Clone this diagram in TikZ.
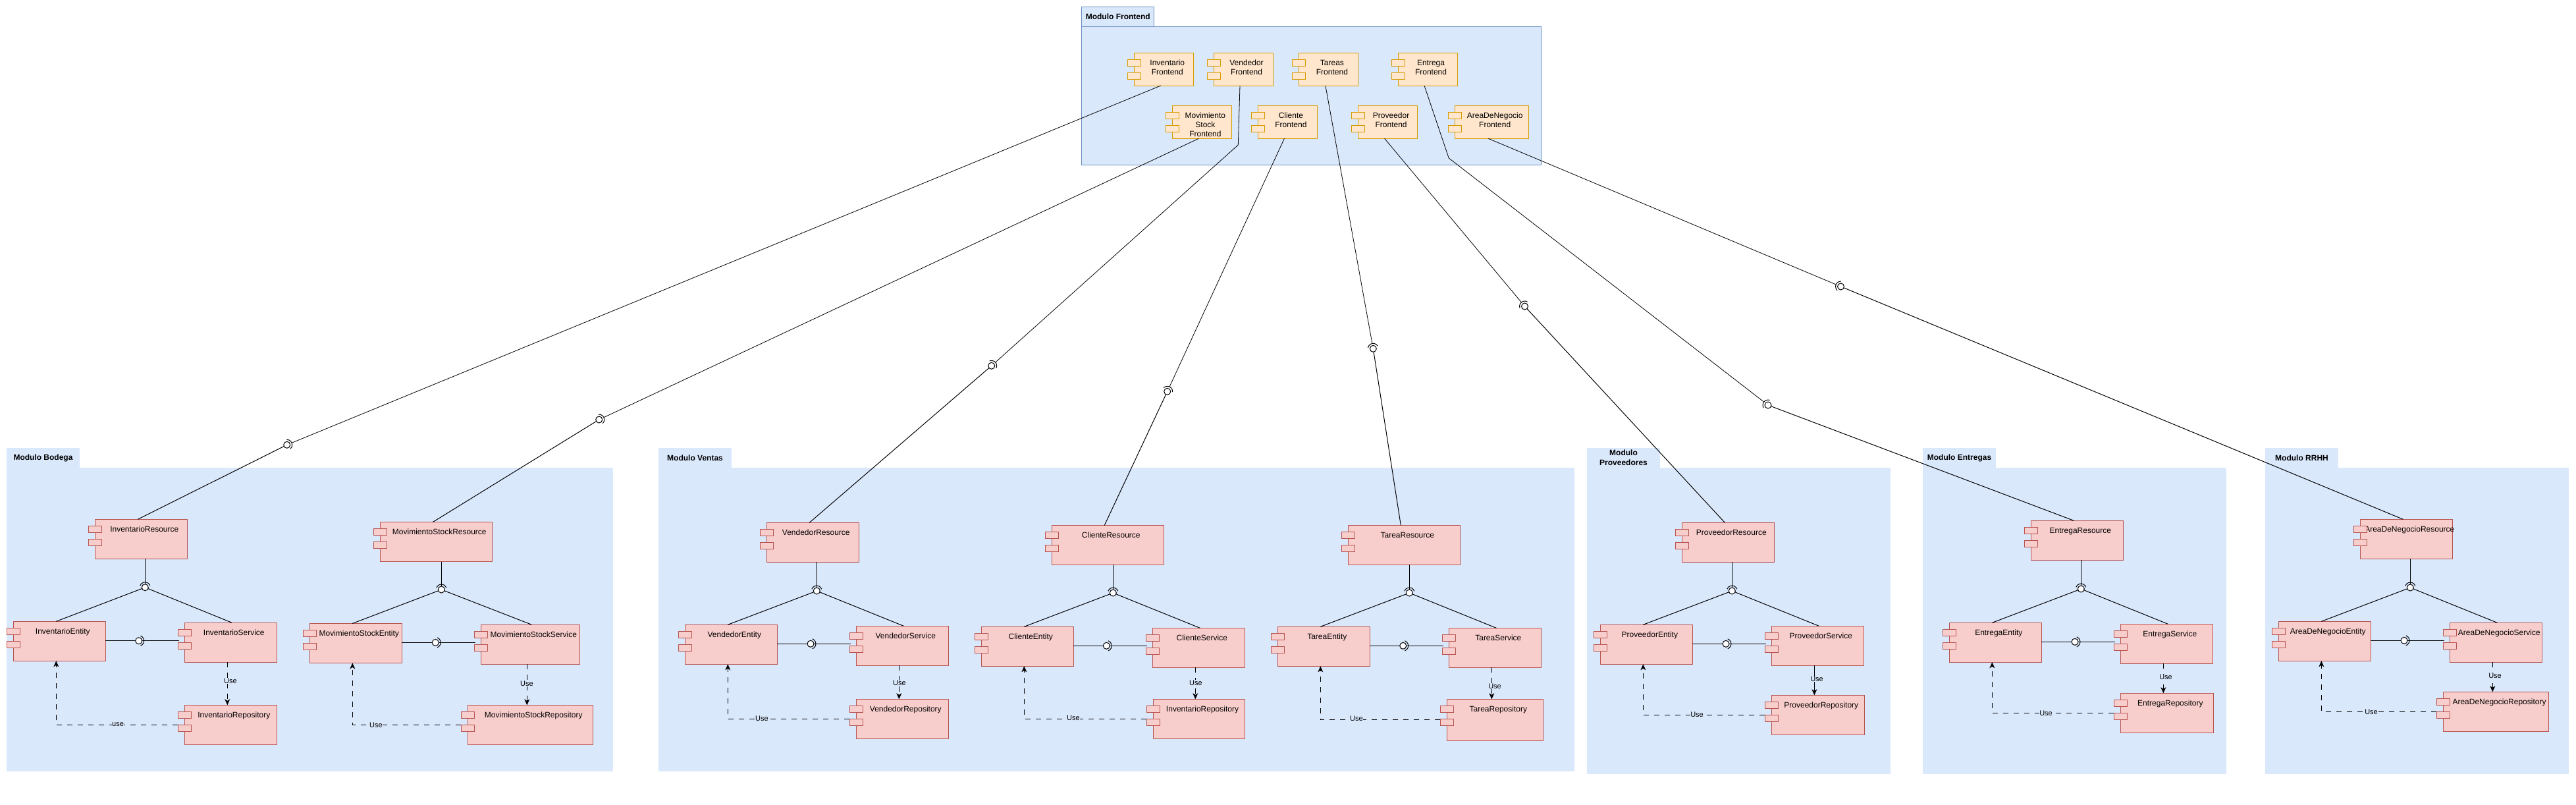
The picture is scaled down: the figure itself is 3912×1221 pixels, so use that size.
\documentclass[tikz,border=0pt]{standalone}
\usepackage{fontspec}
\setmainfont{Liberation Sans}
\usepackage{tikz}
\usetikzlibrary{arrows.meta}

\definecolor{modfill}{HTML}{DAE8FC}
\definecolor{modline}{HTML}{6C8EBF}
\definecolor{redfill}{HTML}{F8CECC}
\definecolor{redline}{HTML}{B85450}
\definecolor{orangefill}{HTML}{FFE6CC}
\definecolor{orangeline}{HTML}{D79B00}

\newcommand{\compstack}[1]{\begin{tabular}[t]{@{}c@{}}#1\end{tabular}}

\tikzset{
    modbody/.style={rectangle, anchor=north west, fill=modfill, inner sep=0pt, outer sep=0pt},
    modtab/.style={modbody, minimum width=111pt, minimum height=30pt, align=center, font=\bfseries\fontsize{12}{15}\selectfont},
    port/.style 2 args={rectangle, anchor=north west, draw=#1, fill=#2, line width=1pt, inner sep=0pt, outer sep=0pt, minimum width=20pt, minimum height=10pt, xshift=-10pt},
    comp/.style 2 args={rectangle, anchor=north west, draw=#1, fill=#2, inner sep=0pt, outer sep=0pt, line width=1pt, text height=19.3pt,
        execute at begin node={\hspace*{10pt}\hbox to 0pt\bgroup\hss},
        execute at end node={\hss\egroup},
        label={[port={#1}{#2}, yshift=-10pt]north west:{}},
        label={[port={#1}{#2}, yshift=-30pt]north west:{}}},
    redcomp/.style={comp={redline}{redfill}, minimum width=#1, text depth=40.7pt},
    redcomp/.default=140pt,
    orangecomp/.style={comp={orangeline}{orangefill}, minimum width=#1, text depth=30.7pt},
    orangecomp/.default=90pt,
    lolly/.style={circle, draw, fill=white, line width=1pt, minimum size=10pt, inner sep=0pt, outer sep=0pt,
        append after command={\pgfextra{
            \draw[line width=1pt] (\tikzlastnode.center) ++(#1-70:8pt) arc[start angle=#1-70, end angle=#1+70, radius=8pt];
        }}},
    wire/.style={line width=1pt},
    longwire/.style={line width=0.8pt, shorten >=3pt},
    dep/.style={line width=1pt, dashed, dash pattern=on 8pt off 8pt, -{Stealth[length=9pt, width=8pt, inset=2.5pt]}},
    uselabel/.style={fill=modfill, inner xsep=0.5pt, inner ysep=0.5pt, font=\fontsize{11}{13}\selectfont}
}

\begin{document}
\begin{tikzpicture}[x=1pt, y=-1pt, font=\fontsize{12}{14}\selectfont]
    \useasboundingbox (0,0) rectangle (3912,1221);

    % modules
    \node[modbody, minimum width=921pt, minimum height=460.7pt] (bodega) at (10,710) {};
    \node[modtab] (bodegatab) at (10,680) {Modulo Bodega};
    \node[modbody, minimum width=1391pt, minimum height=461pt] (ventas) at (1000,710) {};
    \node[modtab] (ventastab) at (1000,680) {Modulo Ventas};
    \node[modbody, minimum width=461pt, minimum height=465pt] (proveedores) at (2410,710) {};
    \node[modtab] (proveedorestab) at (2410,680) {Modulo\\Proveedores};
    \node[modbody, minimum width=461pt, minimum height=465pt] (entregas) at (2920,710) {};
    \node[modtab] (entregastab) at (2920,680) {Modulo Entregas};
    \node[modbody, minimum width=461pt, minimum height=465pt] (rrhh) at (3440,710) {};
    \node[modtab] (rrhhtab) at (3440,680) {Modulo RRHH};
    \node[modbody, draw=modline, line width=1pt, minimum width=697.5pt, minimum height=210pt] (frontend) at (1642.8,40) {};
    \node[modtab, draw=modline, line width=1pt, minimum width=110pt] (frontendtab) at (1642.8,10) {Modulo Frontend};

    % frontend
    \node[orangecomp] (fInv) at (1722.8,80) {\compstack{Inventario\\Frontend}};
    \node[orangecomp] (fVen) at (1843,80) {\compstack{Vendedor\\Frontend}};
    \node[orangecomp] (fTar) at (1972.9,80) {\compstack{Tareas\\Frontend}};
    \node[orangecomp] (fEnt) at (2123,80) {\compstack{Entrega\\Frontend}};
    \node[orangecomp] (fMov) at (1780.4,160.3) {\compstack{Movimiento\\Stock\\Frontend}};
    \node[orangecomp] (fCli) at (1910.4,160.3) {\compstack{Cliente\\Frontend}};
    \node[orangecomp] (fPro) at (2062.6,160.3) {\compstack{Proveedor\\Frontend}};
    \node[orangecomp=112.4pt] (fAre) at (2209,160.3) {\compstack{AreaDeNegocio\\Frontend}};

    % bodega
    \node[redcomp] (invRes) at (144.3,788.3) {InventarioResource};
    \node[redcomp] (invEnt) at (20.3,943.3) {InventarioEntity};
    \node[redcomp] (invSer) at (280.3,945.3) {InventarioService};
    \node[redcomp] (invRep) at (280.3,1070.3) {InventarioRepository};
    \node[redcomp=170pt] (movRes) at (577.3,792.5) {MovimientoStockResource};
    \node[redcomp] (movEnt) at (470.3,946.4) {MovimientoStockEntity};
    \node[redcomp=150pt] (movSer) at (730.3,948.2) {MovimientoStockService};
    \node[redcomp=190pt] (movRep) at (710.3,1070.4) {MovimientoStockRepository};

    % ventas
    \node[redcomp] (venRes) at (1164.3,793.3) {VendedorResource};
    \node[redcomp] (venEnt) at (1040.3,948.3) {VendedorEntity};
    \node[redcomp] (venSer) at (1300.3,950.3) {VendedorService};
    \node[redcomp] (venRep) at (1300.3,1061.3) {VendedorRepository};
    \node[redcomp=170pt] (cliRes) at (1597.3,797.3) {ClienteResource};
    \node[redcomp] (cliEnt) at (1490.3,951.3) {ClienteEntity};
    \node[redcomp] (cliSer) at (1750.3,953.3) {ClienteService};
    \node[redcomp=139.4pt] (cliRep) at (1751.3,1061.3) {InventarioRepository};
    \node[redcomp=170pt] (tarRes) at (2047.3,797.3) {TareaResource};
    \node[redcomp] (tarEnt) at (1940.3,951.3) {TareaEntity};
    \node[redcomp] (tarSer) at (2200.3,953.3) {TareaService};
    \node[redcomp=146pt, text depth=43.7pt] (tarRep) at (2197.3,1061.3) {TareaRepository};

    % proveedores, entregas, rrhh
    \node[redcomp] (proRes) at (2554.3,793.3) {ProveedorResource};
    \node[redcomp] (proEnt) at (2430.3,948.3) {ProveedorEntity};
    \node[redcomp] (proSer) at (2690.3,950.3) {ProveedorService};
    \node[redcomp=141pt] (proRep) at (2690.3,1055.3) {ProveedorRepository};
    \node[redcomp] (entRes) at (3084.3,790.3) {EntregaResource};
    \node[redcomp] (entEnt) at (2960.3,945.3) {EntregaEntity};
    \node[redcomp] (entSer) at (3220.3,947.3) {EntregaService};
    \node[redcomp=141pt] (entRep) at (3220.3,1052.3) {EntregaRepository};
    \node[redcomp] (areRes) at (3584.3,788.3) {AreaDeNegocioResource};
    \node[redcomp] (areEnt) at (3460.3,943.3) {AreaDeNegocioEntity};
    \node[redcomp] (areSer) at (3720.3,945.3) {AreaDeNegocioService};
    \node[redcomp=160.4pt] (areRep) at (3710.3,1050.3) {AreaDeNegocioRepository};

    % interfaces
    \node[lolly=90] (invTri) at (220.3,891.7) {};
    \node[lolly=0] (invHor) at (210.7,972.7) {};
    \node[lolly=22] (invFro) at (435.7,675.3) {};
    \node[lolly=90] (movTri) at (670.3,895) {};
    \node[lolly=0] (movHor) at (661.3,975.4) {};
    \node[lolly=25] (movFro) at (909.7,637) {};
    \node[lolly=90] (venTri) at (1240.3,897) {};
    \node[lolly=0] (venHor) at (1231,977.3) {};
    \node[lolly=42] (venFro) at (1505.7,555.3) {};
    \node[lolly=90] (cliTri) at (1690.3,900) {};
    \node[lolly=0] (cliHor) at (1680.3,980.3) {};
    \node[lolly=65] (cliFro) at (1772.7,594.3) {};
    \node[lolly=90] (tarTri) at (2140.3,900) {};
    \node[lolly=0] (tarHor) at (2130.7,980.3) {};
    \node[lolly=100] (tarFro) at (2085.3,529.3) {};
    \node[lolly=90] (proTri) at (2630.3,897) {};
    \node[lolly=0] (proHor) at (2621,977.3) {};
    \node[lolly=130] (proFro) at (2315.5,465) {};
    \node[lolly=90] (entTri) at (3160.3,894) {};
    \node[lolly=0] (entHor) at (3151,974.3) {};
    \node[lolly=142] (entFro) at (2685,615) {};
    \node[lolly=90] (areTri) at (3660.3,892) {};
    \node[lolly=0] (areHor) at (3651,972.3) {};
    \node[lolly=157] (areFro) at (2795.5,435) {};

    % frontend wires
    \draw[longwire] ([xshift=-5pt]fInv.south) -- (invFro);
    \draw[wire] ([xshift=-5pt]invRes.north) -- (invFro);
    \draw[longwire] ([xshift=-5pt]fMov.south) -- (movFro);
    \draw[wire] ([xshift=-5pt]movRes.north) -- (movFro);
    \draw[longwire] ([xshift=-5pt]fVen.south) -- (1880.3,220) -- (venFro);
    \draw[wire] ([xshift=-5pt]venRes.north) -- (venFro);
    \draw[longwire] ([xshift=-5pt]fCli.south) -- (cliFro);
    \draw[wire] ([xshift=-5pt]cliRes.north) -- (cliFro);
    \draw[longwire] ([xshift=-5pt]fTar.south) -- (tarFro);
    \draw[wire] ([xshift=-5pt]tarRes.north) -- (tarFro);
    \draw[longwire] ([xshift=-5pt]fPro.south) -- (proFro);
    \draw[wire] ([xshift=-5pt]proRes.north) -- (proFro);
    \draw[longwire] ([xshift=-5pt]fEnt.south) -- (2200.2,240) -- (entFro);
    \draw[wire] ([xshift=-5pt]entRes.north) -- (entFro);
    \draw[longwire] ([xshift=-5pt]fAre.south) -- (areFro);
    \draw[wire] ([xshift=-5pt]areRes.north) -- (areFro);

    % inner wires
    \draw[wire] (invTri |- invRes.south) -- (invTri);
    \draw[wire] ([xshift=-5pt]invEnt.north) -- (invTri);
    \draw[wire] ([xshift=2pt]invSer.north) -- (invTri);
    \draw[wire] (invEnt.east |- invHor) -- (invHor);
    \draw[wire] (invHor) -- ([xshift=-8.5pt]invSer.west |- invHor);
    \draw[wire] (movTri |- movRes.south) -- (movTri);
    \draw[wire] ([xshift=-5pt]movEnt.north) -- (movTri);
    \draw[wire] ([xshift=2pt]movSer.north) -- (movTri);
    \draw[wire] (movEnt.east |- movHor) -- (movHor);
    \draw[wire] (movHor) -- ([xshift=-8.5pt]movSer.west |- movHor);
    \draw[wire] (venTri |- venRes.south) -- (venTri);
    \draw[wire] ([xshift=-5pt]venEnt.north) -- (venTri);
    \draw[wire] ([xshift=2pt]venSer.north) -- (venTri);
    \draw[wire] (venEnt.east |- venHor) -- (venHor);
    \draw[wire] (venHor) -- ([xshift=-8.5pt]venSer.west |- venHor);
    \draw[wire] (cliTri |- cliRes.south) -- (cliTri);
    \draw[wire] ([xshift=-5pt]cliEnt.north) -- (cliTri);
    \draw[wire] ([xshift=2pt]cliSer.north) -- (cliTri);
    \draw[wire] (cliEnt.east |- cliHor) -- (cliHor);
    \draw[wire] (cliHor) -- ([xshift=-8.5pt]cliSer.west |- cliHor);
    \draw[wire] (tarTri |- tarRes.south) -- (tarTri);
    \draw[wire] ([xshift=-5pt]tarEnt.north) -- (tarTri);
    \draw[wire] ([xshift=2pt]tarSer.north) -- (tarTri);
    \draw[wire] (tarEnt.east |- tarHor) -- (tarHor);
    \draw[wire] (tarHor) -- ([xshift=-8.5pt]tarSer.west |- tarHor);
    \draw[wire] (proTri |- proRes.south) -- (proTri);
    \draw[wire] ([xshift=-5pt]proEnt.north) -- (proTri);
    \draw[wire] ([xshift=2pt]proSer.north) -- (proTri);
    \draw[wire] (proEnt.east |- proHor) -- (proHor);
    \draw[wire] (proHor) -- ([xshift=-8.5pt]proSer.west |- proHor);
    \draw[wire] (entTri |- entRes.south) -- (entTri);
    \draw[wire] ([xshift=-5pt]entEnt.north) -- (entTri);
    \draw[wire] ([xshift=2pt]entSer.north) -- (entTri);
    \draw[wire] (entEnt.east |- entHor) -- (entHor);
    \draw[wire] (entHor) -- ([xshift=-8.5pt]entSer.west |- entHor);
    \draw[wire] (areTri |- areRes.south) -- (areTri);
    \draw[wire] ([xshift=-5pt]areEnt.north) -- (areTri);
    \draw[wire] ([xshift=2pt]areSer.north) -- (areTri);
    \draw[wire] (areEnt.east |- areHor) -- (areHor);
    \draw[wire] (areHor) -- ([xshift=-8.5pt]areSer.west |- areHor);

    % use arrows
    \draw[dep] ([xshift=-5pt]invSer.south) -- ([xshift=-5pt]invSer.south |- invRep.north);
    \draw[dep] ([xshift=-10pt]invRep.west) -| ([xshift=-5pt]invEnt.south);
    \draw[dep] ([xshift=-5pt]movSer.south) -- ([xshift=-5pt]movSer.south |- movRep.north);
    \draw[dep] ([xshift=-10pt]movRep.west) -| ([xshift=-5pt]movEnt.south);
    \draw[dep] ([xshift=-5pt]venSer.south) -- ([xshift=-5pt]venSer.south |- venRep.north);
    \draw[dep] ([xshift=-10pt]venRep.west) -| ([xshift=-5pt]venEnt.south);
    \draw[dep] ([xshift=-5pt]cliSer.south) -- ([xshift=-5pt]cliSer.south |- cliRep.north);
    \draw[dep] ([xshift=-10pt]cliRep.west) -| ([xshift=-5pt]cliEnt.south);
    \draw[dep] ([xshift=-5pt]tarSer.south) -- ([xshift=-5pt]tarSer.south |- tarRep.north);
    \draw[dep] ([xshift=-10pt]tarRep.west) -| ([xshift=-5pt]tarEnt.south);
    \draw[dep, solid] ([xshift=-5pt]proSer.south) -- ([xshift=-5pt]proSer.south |- proRep.north);
    \draw[dep] ([xshift=-10pt]proRep.west) -| ([xshift=-5pt]proEnt.south);
    \draw[dep] ([xshift=-5pt]entSer.south) -- ([xshift=-5pt]entSer.south |- entRep.north);
    \draw[dep] ([xshift=-10pt]entRep.west) -| ([xshift=-5pt]entEnt.south);
    \draw[dep] ([xshift=-5pt]areSer.south) -- ([xshift=-5pt]areSer.south |- areRep.north);
    \draw[dep] ([xshift=-10pt]areRep.west) -| ([xshift=-5pt]areEnt.south);

    % use labels
    \node[uselabel] (invUse) at (350,1034) {Use};
    \node[uselabel] (invUseB) at (179,1099.3) {use};
    \node[uselabel] (movUse) at (800,1038) {Use};
    \node[uselabel] (movUseB) at (571,1101) {Use};
    \node[uselabel] (venUse) at (1366,1037) {Use};
    \node[uselabel] (venUseB) at (1157,1091) {Use};
    \node[uselabel] (cliUse) at (1816,1036.3) {Use};
    \node[uselabel] (cliUseB) at (1630,1090) {Use};
    \node[uselabel] (tarUse) at (2270,1042) {Use};
    \node[uselabel] (tarUseB) at (2060,1091) {Use};
    \node[uselabel] (proUse) at (2759,1031) {Use};
    \node[uselabel] (proUseB) at (2577,1085) {Use};
    \node[uselabel] (entUse) at (3289,1028) {Use};
    \node[uselabel] (entUseB) at (3107,1083) {Use};
    \node[uselabel] (areUse) at (3789,1026) {Use};
    \node[uselabel] (areUseB) at (3601,1081) {Use};
\end{tikzpicture}
\end{document}
